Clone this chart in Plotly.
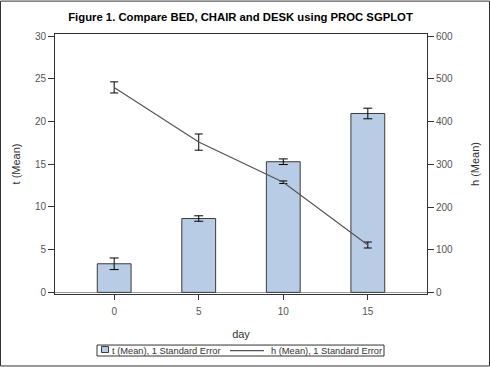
import plotly.graph_objects as go

days = [0, 5, 10, 15]
t_mean = [3.35, 8.65, 15.3, 20.95]
t_se = [0.68, 0.32, 0.33, 0.62]
h_mean = [480, 352, 258, 111]
h_se = [13, 19, 3, 7]
t_ticks = [0, 5, 10, 15, 20, 25, 30]
h_ticks = [0, 100, 200, 300, 400, 500, 600]
t_label = "t (Mean), 1 Standard Error"
h_label = "h (Mean), 1 Standard Error"

W, H = 490, 367
L, R, T, B = 55, 63, 33.5, 72.7
pw, ph = W - L - R, H - T - B


def px(x):
    return (x - L) / pw


def py(y):
    return (H - B - y) / ph


BAR_FILL = "#B8CDE5"
BAR_LINE = "#3a3a3a"
H_LINE = "#555555"

fig = go.Figure()
fig.add_trace(go.Bar(
    x=days, y=t_mean, width=2,
    name=t_label, showlegend=False,
    marker=dict(color=BAR_FILL, line=dict(color=BAR_LINE, width=1)),
    error_y=dict(type="data", array=t_se, color="black", thickness=1, width=4.5),
))
fig.add_trace(go.Scatter(
    x=days, y=h_mean, yaxis="y2", mode="lines",
    name=h_label, showlegend=False,
    line=dict(color=H_LINE, width=1.2),
    error_y=dict(type="data", array=h_se, color="black", thickness=1, width=4),
))

axfont = dict(family="Arial", size=11, color="#333333")
tickfont = dict(family="Arial", size=10, color="#555555")
legfont = dict(family="Arial", size=9.3, color="#333333")

shapes = [
    # figure border
    dict(type="rect", xref="paper", yref="paper",
         x0=px(0.5), x1=px(W - 0.5), y0=py(H - 0.5), y1=py(0.5),
         line=dict(color="#333", width=1), fillcolor="rgba(0,0,0,0)", layer="above"),
    # legend box
    dict(type="rect", xref="paper", yref="paper",
         x0=px(97), x1=px(384), y0=py(356.5), y1=py(345.5),
         line=dict(color="#333", width=1), fillcolor="white"),
    # legend bar swatch
    dict(type="rect", xref="paper", yref="paper",
         x0=px(101.5), x1=px(108.5), y0=py(353), y1=py(347),
         line=dict(color=BAR_LINE, width=1), fillcolor=BAR_FILL),
    # legend line sample
    dict(type="line", xref="paper", yref="paper",
         x0=px(230), x1=px(264), y0=py(351), y1=py(351),
         line=dict(color=H_LINE, width=1.2)),
]

annotations = [
    dict(text=t_label, xref="paper", yref="paper", x=px(109.5), y=py(351),
         xanchor="left", yanchor="middle", showarrow=False, font=legfont),
    dict(text=h_label, xref="paper", yref="paper", x=px(269), y=py(351),
         xanchor="left", yanchor="middle", showarrow=False, font=legfont),
]

fig.update_layout(
    width=W, height=H,
    margin=dict(l=L, r=R, t=T, b=B, autoexpand=False),
    paper_bgcolor="white", plot_bgcolor="white",
    showlegend=False,
    title=dict(text="<b>Figure 1. Compare BED, CHAIR and DESK using PROC SGPLOT</b>",
               x=240.5 / W, xanchor="center", y=1 - 17 / H, yanchor="middle",
               font=dict(family="Arial", size=11.3, color="black")),
    xaxis=dict(range=[-3.5, 18.5], tickvals=days, ticktext=[str(d) for d in days],
               ticks="outside", ticklen=5, tickcolor="#333", showgrid=False,
               zeroline=False, showline=True, linecolor="#333", linewidth=1, mirror=True,
               ticklabelstandoff=3,
               title=dict(text="day", font=axfont, standoff=14), tickfont=tickfont,
               automargin=False),
    yaxis=dict(range=[-0.19, 30.26], tickvals=t_ticks, ticks="outside", ticklen=6,
               tickcolor="#333", showgrid=False, zeroline=True, zerolinecolor="#999",
               zerolinewidth=1, showline=True, linecolor="#333", linewidth=1,
               title=dict(text="t (Mean)", font=axfont, standoff=12), tickfont=tickfont,
               automargin=False),
    yaxis2=dict(range=[-3.7, 605.1], tickvals=h_ticks, ticks="outside", ticklen=6,
                tickcolor="#333", showgrid=False, zeroline=False, overlaying="y",
                side="right", showline=True, linecolor="#333", linewidth=1,
                title=dict(text="h (Mean)", font=axfont, standoff=19), tickfont=tickfont,
                automargin=False),
    shapes=shapes,
    annotations=annotations,
)

fig.write_html("out.html", config={"displayModeBar": False},
               post_script="document.body.style.margin='0';document.body.style.padding='0';")
